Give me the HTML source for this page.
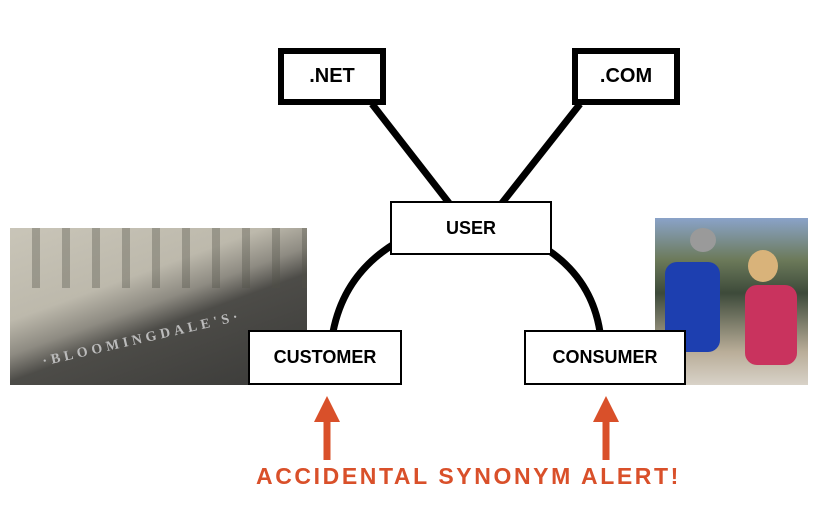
<!DOCTYPE html>
<html><head><style>
body{margin:0;width:823px;height:518px;background:#fff;position:relative;overflow:hidden;font-family:"Liberation Sans",sans-serif}
.b{position:absolute;background:#fff;box-sizing:border-box;display:flex;align-items:center;justify-content:center;font-weight:bold;color:#000}
</style></head><body>
<div style="position:absolute;left:10px;top:228px;width:297px;height:157px;background:linear-gradient(160deg,#c9c5b8 0%,#bdb9ac 35%,#8e8b82 48%,#4d4c48 58%,#3a3a38 100%)"></div>
<div style="position:absolute;left:10px;top:228px;width:297px;height:60px;background:repeating-linear-gradient(90deg,transparent 0 22px,rgba(80,80,70,.35) 22px 30px)"></div>
<div style="position:absolute;left:40px;top:330px;width:220px;font:bold 14px 'Liberation Serif',serif;color:#bbb;letter-spacing:4px;transform:rotate(-13deg)">·BLOOMINGDALE'S·</div>
<div style="position:absolute;left:655px;top:218px;width:153px;height:167px;background:linear-gradient(180deg,#8aa3c8 0%,#6c7a5a 25%,#3d4a3a 45%,#b9ad98 80%,#d8d2c8 100%)"></div>
<div style="position:absolute;left:665px;top:262px;width:55px;height:90px;background:#1d3fb0;border-radius:12px"></div>
<div style="position:absolute;left:745px;top:285px;width:52px;height:80px;background:#c9335e;border-radius:12px"></div>
<div style="position:absolute;left:690px;top:228px;width:26px;height:24px;background:#9a9a9a;border-radius:50%"></div>
<div style="position:absolute;left:748px;top:250px;width:30px;height:32px;background:#d9b37a;border-radius:50%"></div>
<svg width="823" height="518" style="position:absolute;left:0;top:0">
<g stroke="#000" stroke-width="7" fill="none">
<line x1="372" y1="104" x2="449" y2="203"/>
<line x1="580" y1="104" x2="502" y2="203"/>
<path d="M394 244 Q344 275 333 332"/>
<path d="M548 250 Q592 280 600 332"/>
</g>
<g stroke="#d9502a" stroke-width="7"><line x1="327" y1="460" x2="327" y2="415"/><line x1="606" y1="460" x2="606" y2="415"/></g>
<g fill="#d9502a"><polygon points="327,396 314,422 340,422"/><polygon points="606,396 593,422 619,422"/></g>
</svg>
<div class="b" style="left:278px;top:48px;width:108px;height:57px;border:6px solid #000;font-size:20px">.NET</div>
<div class="b" style="left:572px;top:48px;width:108px;height:57px;border:6px solid #000;font-size:20px">.COM</div>
<div class="b" style="left:390px;top:201px;width:162px;height:54px;border:2px solid #000;font-size:18px">USER</div>
<div class="b" style="left:248px;top:330px;width:154px;height:55px;border:2px solid #000;font-size:18px">CUSTOMER</div>
<div class="b" style="left:524px;top:330px;width:162px;height:55px;border:2px solid #000;font-size:18px">CONSUMER</div>
<div style="position:absolute;left:256px;top:463px;width:424px;text-align:center;color:#d9502a;font-weight:bold;font-size:23px;letter-spacing:2.6px;white-space:nowrap">ACCIDENTAL SYNONYM ALERT!</div>
</body></html>
